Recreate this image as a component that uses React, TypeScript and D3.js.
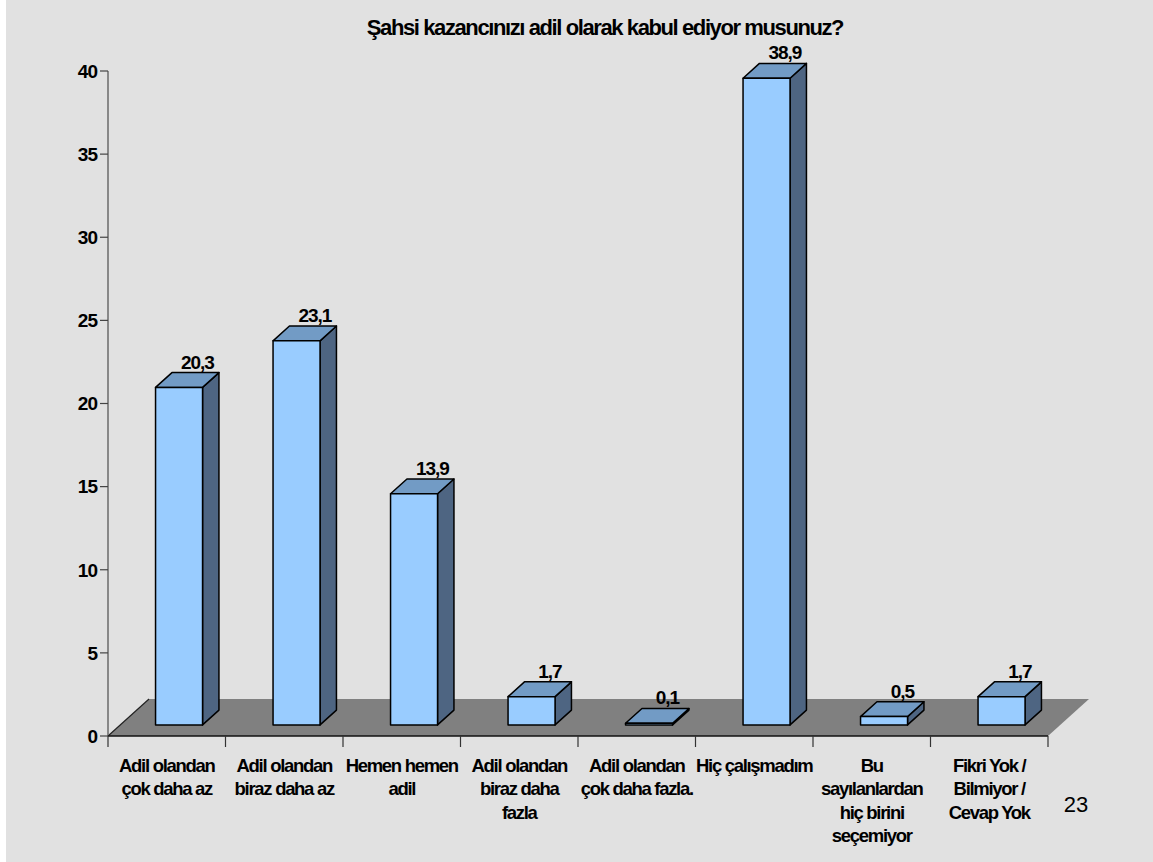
import React from "react";
import * as d3 from "d3";

const categories: string[][] = [
  ["Adil olandan", "çok daha az"],
  ["Adil olandan", "biraz daha az"],
  ["Hemen hemen", "adil"],
  ["Adil olandan", "biraz daha", "fazla"],
  ["Adil olandan", "çok daha fazla."],
  ["Hiç çalışmadım"],
  ["Bu", "sayılanlardan", "hiç birini", "seçemiyor"],
  ["Fikri Yok /", "Bilmiyor /", "Cevap Yok"],
];
const values: number[] = [20.3, 23.1, 13.9, 1.7, 0.1, 38.9, 0.5, 1.7];
const valueLabels: string[] = ["20,3", "23,1", "13,9", "1,7", "0,1", "38,9", "0,5", "1,7"];
const yTicks: number[] = [0, 5, 10, 15, 20, 25, 30, 35, 40];
const title = "Şahsi kazancınızı adil olarak kabul ediyor musunuz?";
const pageNumber = "23";

const W = 1153;
const H = 862;
const FONT = "'Liberation Sans', Arial, sans-serif";

export default function App() {
  const x0 = 108;
  const x1 = 1048;
  const y = d3.scaleLinear().domain([0, 40]).range([736, 71]);
  const keys = categories.map((_, i) => String(i));
  const band = d3.scaleBand<string>().domain(keys).range([x0, x1]).paddingInner(0.6).paddingOuter(0.3);
  const step = band.step();
  const D = { x: 41, y: -37 };
  const fFront = 0.3;
  const fBack = 0.7;
  const y0 = y(0);

  const floor = [
    [x0, y0],
    [x1, y0],
    [x1 + D.x, y0 + D.y],
    [x0 + D.x, y0 + D.y],
  ];
  const line = d3.line();

  return (
    <svg width={W} height={H} style={{ position: "absolute", left: 0, top: 0 }} fontFamily={FONT}>
      <rect x={0} y={0} width={W} height={H} fill="#ffffff" />
      <rect x={6} y={0} width={W - 6} height={H} fill="#e1e1e1" />

      <text x={605} y={35} textAnchor="middle" fontSize={22} fontWeight="bold" letterSpacing={-1.4} fill="#000">
        {title}
      </text>

      {/* floor */}
      <path d={line(floor as [number, number][]) + "Z"} fill="#808080" stroke="none" />
      <line x1={x0} y1={y0} x2={x0 + D.x} y2={y0 + D.y} stroke="#222" strokeWidth={1.2} />

      {/* y axis */}
      <line x1={x0} y1={y(40)} x2={x0} y2={y0} stroke="#6a6a6a" strokeWidth={1.5} />
      {yTicks.map((t) => (
        <g key={t}>
          <line x1={x0 - 8} y1={y(t)} x2={x0} y2={y(t)} stroke="#444" strokeWidth={1.2} />
          <text x={97} y={y(t)} dy="0.36em" textAnchor="end" fontSize={19} fontWeight="bold" letterSpacing={-1} fill="#000">
            {t}
          </text>
        </g>
      ))}

      {/* x axis */}
      <line x1={x0} y1={y0} x2={x1} y2={y0} stroke="#111" strokeWidth={1.5} />
      {d3.range(categories.length + 1).map((i) => (
        <line key={i} x1={x0 + i * step} y1={y0} x2={x0 + i * step} y2={y0 + 11} stroke="#333" strokeWidth={1.2} />
      ))}

      {/* bars */}
      {values.map((v, i) => {
        const bx = band(String(i))! + D.x * fFront;
        const bw = band.bandwidth();
        const base = y0 + D.y * fFront;
        const top = base - (y0 - y(v));
        const dx = D.x * (fBack - fFront);
        const dy = D.y * (fBack - fFront);
        const front: [number, number][] = [
          [bx, top], [bx + bw, top], [bx + bw, base], [bx, base],
        ];
        const side: [number, number][] = [
          [bx + bw, top], [bx + bw + dx, top + dy], [bx + bw + dx, base + dy], [bx + bw, base],
        ];
        const topFace: [number, number][] = [
          [bx, top], [bx + dx, top + dy], [bx + bw + dx, top + dy], [bx + bw, top],
        ];
        return (
          <g key={i} stroke="#000" strokeWidth={1.5} strokeLinejoin="round">
            <path d={line(side) + "Z"} fill="#4e6582" />
            <path d={line(topFace) + "Z"} fill="#729bc5" />
            <path d={line(front) + "Z"} fill="#99ccff" />
            <text
              x={bx + bw / 2 + dx + 2}
              y={top + dy - 4}
              textAnchor="middle"
              fontSize={19}
              fontWeight="bold"
              letterSpacing={-1}
              fill="#000"
              stroke="none"
            >
              {valueLabels[i]}
            </text>
          </g>
        );
      })}

      {/* category labels */}
      {categories.map((lines, i) => (
        <text key={i} textAnchor="middle" fontSize={18.5} fontWeight="bold" letterSpacing={-1.3} fill="#000">
          {lines.map((l, j) => (
            <tspan key={j} x={x0 + (i + 0.5) * step} y={771.5 + j * 23.5}>
              {l}
            </tspan>
          ))}
        </text>
      ))}

      <text x={1076} y={812} textAnchor="middle" fontSize={22} fill="#000">
        {pageNumber}
      </text>
    </svg>
  );
}
